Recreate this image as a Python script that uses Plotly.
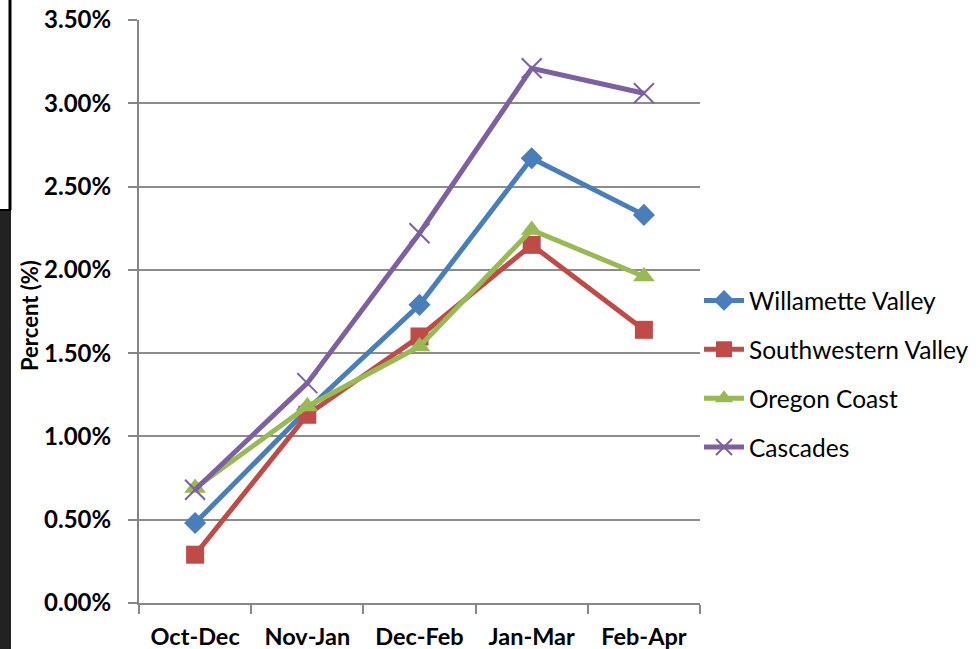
import plotly.graph_objects as go

categories = ["Oct-Dec", "Nov-Jan", "Dec-Feb", "Jan-Mar", "Feb-Apr"]
willamette = [0.0048, 0.0116, 0.0179, 0.0267, 0.0233]
southwestern = [0.0029, 0.0113, 0.0160, 0.0215, 0.0164]
oregon_coast = [0.0069, 0.0118, 0.0154, 0.0224, 0.0196]
cascades = [0.0068, 0.0132, 0.0222, 0.0321, 0.0306]
y_title = "Percent (%)"

W, H = 980, 649
L, R, T, B = 139, 280, 20, 46
pw = W - L - R
ph = H - T - B

def px_x(p):
    return (p - L) / pw

def px_y(p):
    return (H - B - p) / ph

FONT = "Lato"

series = [
    ("Willamette Valley", willamette, "#4A7EBB", dict(symbol="diamond", size=17)),
    ("Southwestern Valley", southwestern, "#BE4B48", dict(symbol="square", size=18)),
    ("Oregon Coast", oregon_coast, "#98B954", dict(symbol="triangle-up", size=19)),
    ("Cascades", cascades, "#7D60A0", dict(symbol="x-thin", size=20, line=dict(width=2, color="#7D60A0"))),
]

fig = go.Figure()
for i, (name, vals, col, mk) in enumerate(series):
    m = dict(color=col, **mk)
    if "line" not in m:
        m["line"] = dict(width=0)
    fig.add_trace(go.Scatter(
        x=categories, y=vals, name=name, mode="lines+markers",
        line=dict(color=col, width=5), marker=m, legendgroup=f"g{i}",
    ))

fig.update_layout(
    width=W, height=H,
    margin=dict(l=L, r=R, t=T, b=B, autoexpand=False),
    paper_bgcolor="white", plot_bgcolor="white",
    font=dict(family=FONT, color="black"),
    legend=dict(
        x=px_x(699), xanchor="left", y=px_y(278), yanchor="top",
        font=dict(size=24.5, family=FONT, color="black"),
        tracegroupgap=14, itemwidth=40, bgcolor="rgba(0,0,0,0)",
    ),
    xaxis=dict(
        type="category", range=[-0.5, 4.5], tickson="boundaries",
        ticks="outside", ticklen=9, tickcolor="#868686", tickwidth=2,
        showline=True, linecolor="#868686", linewidth=2,
        showgrid=False,
        ticklabelstandoff=12,
        tickfont=dict(size=23.5, family=FONT, color="black", weight="bold"),
    ),
    yaxis=dict(
        range=[0, 0.035], dtick=0.005, tickformat=".2%",
        ticks="outside", ticklen=9, tickcolor="#868686", tickwidth=2,
        showline=True, linecolor="#868686", linewidth=2,
        showgrid=True, gridcolor="#8C8C8C", gridwidth=2,
        zeroline=False,
        tickfont=dict(size=24, family=FONT, color="black", weight="bold"),
        ticklabelstandoff=12,
    ),
)

fig.add_annotation(
    text=y_title, textangle=-90, xref="paper", yref="paper",
    x=px_x(29), y=px_y(316), xanchor="center", yanchor="middle",
    showarrow=False,
    font=dict(size=22, family=FONT, color="black", weight="bold"),
)

# left-edge page decoration
fig.add_shape(type="rect", xref="paper", yref="paper",
              x0=px_x(0), x1=px_x(11), y0=px_y(649), y1=px_y(210),
              fillcolor="#222222", line=dict(width=0), layer="above")
fig.add_shape(type="line", xref="paper", yref="paper",
              x0=px_x(10), x1=px_x(10), y0=px_y(210), y1=px_y(0),
              line=dict(color="black", width=3), layer="above")
fig.add_shape(type="line", xref="paper", yref="paper",
              x0=px_x(0), x1=px_x(11), y0=px_y(210), y1=px_y(210),
              line=dict(color="black", width=2), layer="above")

fig.write_html("out.html", config={"displayModeBar": False},
               post_script="document.body.style.margin='0';document.body.style.overflow='hidden';")
